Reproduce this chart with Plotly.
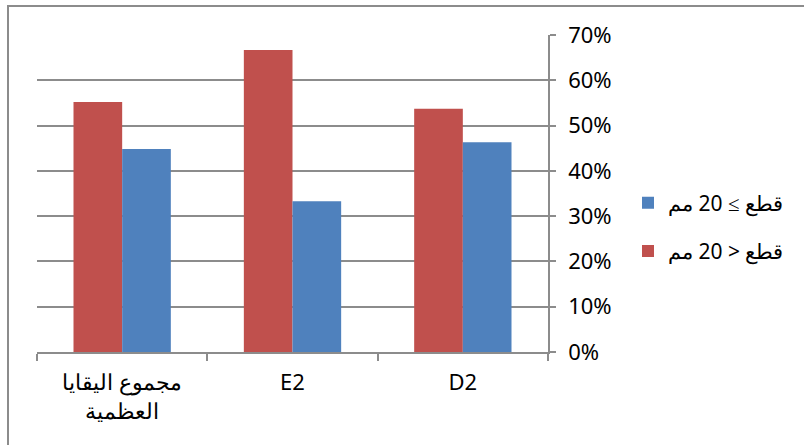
import plotly.graph_objects as go

categories = ["مجموع اليقايا<br>العظمية", "E2", "D2"]
red_name = "قطع < 20 مم"
blue_name = "قطع ≥ 20 مم"
red_values = [0.552, 0.667, 0.537]
blue_values = [0.448, 0.333, 0.463]
y_ticks = [0, 0.1, 0.2, 0.3, 0.4, 0.5, 0.6, 0.7]

W, H = 804, 445
L, R, T, B = 37, 256, 35, 93
pw, ph = W - L - R, H - T - B

fig = go.Figure()
fig.add_trace(go.Bar(x=categories, y=red_values, name=red_name, legendgroup="r",
                     legendrank=2,
                     marker=dict(color="#C0504D", line=dict(width=0))))
fig.add_trace(go.Bar(x=categories, y=blue_values, name=blue_name, legendgroup="b",
                     legendrank=1,
                     marker=dict(color="#4F81BD", line=dict(width=0))))

gray = "#8C8C8C"
fig.update_layout(
    width=W, height=H,
    margin=dict(l=L, r=R, t=T, b=B, autoexpand=False),
    paper_bgcolor="white", plot_bgcolor="white",
    barmode="group", bargap=0.4286, bargroupgap=0,
    font=dict(family="Noto Sans", size=21, color="black"),
    legend=dict(x=(628 - L) / pw, y=1 - (227 - T) / ph, xanchor="left", yanchor="middle",
                traceorder="grouped", font=dict(family="Noto Sans", size=21),
                itemwidth=30, tracegroupgap=18, bgcolor="rgba(0,0,0,0)"),
    showlegend=True,
)
fig.update_xaxes(showline=True, linecolor=gray, linewidth=1.5,
                 ticks="outside", tickson="boundaries", ticklen=7,
                 tickcolor=gray, tickwidth=1.5, showgrid=False,
                 tickfont=dict(family="Noto Sans", size=22), ticklabelstandoff=10)
fig.update_yaxes(side="right", range=[0, 0.7], tickvals=y_ticks,
                 tickformat=".0%", showline=True, linecolor=gray, linewidth=1.5,
                 ticks="outside", ticklen=6, tickcolor=gray, tickwidth=1.5,
                 showgrid=True, gridcolor=gray, gridwidth=1.5, zeroline=False,
                 tickfont=dict(family="Noto Sans", size=22), ticklabelstandoff=8)

# outer chart border
fig.add_shape(type="rect", xref="paper", yref="paper",
              x0=(8 - L) / pw, x1=(W + 5 - L) / pw,
              y0=-(B + 5) / ph, y1=1 + (T - 6) / ph,
              line=dict(color=gray, width=2), layer="below")

fig.write_html("out.html", config={"displayModeBar": False},
               post_script="document.body.style.margin='0';document.body.style.overflow='hidden';")
